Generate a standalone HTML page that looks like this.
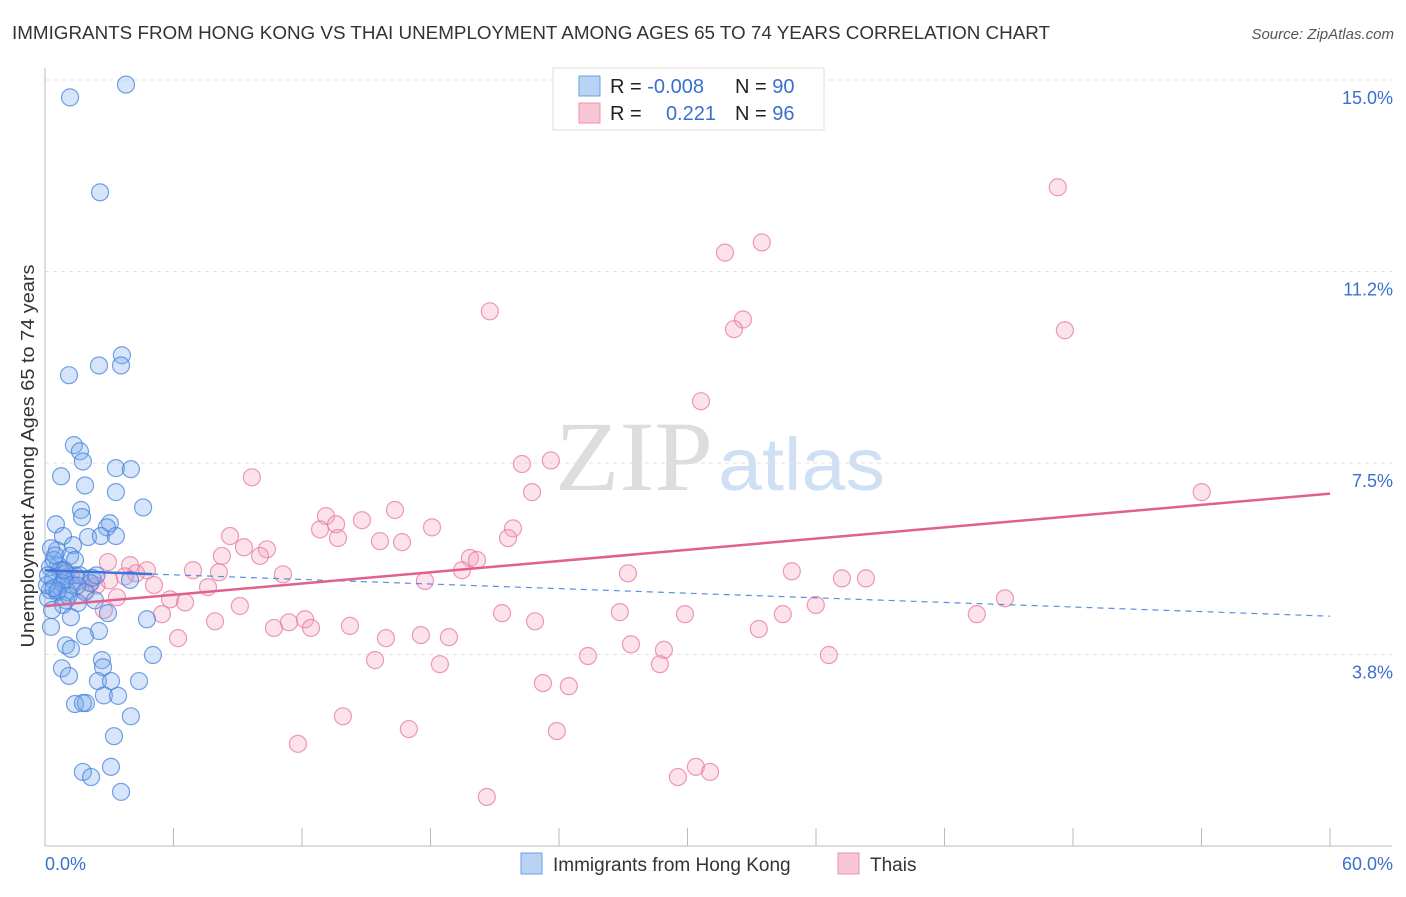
<!DOCTYPE html>
<html><head><meta charset="utf-8"><style>
body{margin:0;background:#fff;font-family:"Liberation Sans",sans-serif;}
</style></head><body>
<svg id="chart" width="1406" height="892" xmlns="http://www.w3.org/2000/svg">
<text x="12" y="39" font-size="18" fill="#333" textLength="1038" lengthAdjust="spacingAndGlyphs">IMMIGRANTS FROM HONG KONG VS THAI UNEMPLOYMENT AMONG AGES 65 TO 74 YEARS CORRELATION CHART</text>
<text x="1394" y="39" font-size="15" fill="#555" font-style="italic" text-anchor="end">Source: ZipAtlas.com</text>
<text x="555" y="490" font-size="100" fill="#ddd" font-family="Liberation Serif,serif" textLength="158" lengthAdjust="spacingAndGlyphs">ZIP</text>
<text x="718" y="490" font-size="74" fill="#cfe0f5" textLength="167" lengthAdjust="spacingAndGlyphs">atlas</text>
<g id="grid"></g>
<g id="axes"></g>
<g id="pts"></g>
<g id="trends"></g>
<text transform="translate(34,456) rotate(-90)" font-size="18" fill="#333" text-anchor="middle" textLength="383" lengthAdjust="spacingAndGlyphs">Unemployment Among Ages 65 to 74 years</text>
<g>
<rect x="553" y="68" width="271" height="62" fill="#fff" stroke="#ddd"/>
<rect x="579" y="76" width="21" height="20" fill="#b9d3f5" stroke="#6a9fe0"/>
<rect x="579" y="103" width="21" height="20" fill="#f8c5d4" stroke="#eb94b0"/>
<text x="610" y="93" font-size="20" fill="#222">R = <tspan fill="#3a6fd0">-0.008</tspan></text>
<text x="735" y="93" font-size="20" fill="#222">N = <tspan fill="#3a6fd0">90</tspan></text>
<text x="610" y="120" font-size="20" fill="#222">R = </text>
<text x="716" y="120" font-size="20" fill="#3a6fd0" text-anchor="end">0.221</text>
<text x="735" y="120" font-size="20" fill="#222">N = <tspan fill="#3a6fd0">96</tspan></text>
</g>
<g>
<rect x="521" y="853" width="21" height="21" fill="#b9d3f5" stroke="#6a9fe0"/>
<text x="553" y="871" font-size="19" fill="#333">Immigrants from Hong Kong</text>
<rect x="838" y="853" width="21" height="21" fill="#f8c5d4" stroke="#eb94b0"/>
<text x="870" y="871" font-size="19" fill="#333">Thais</text>
</g>
</svg>
<script>
const yTicks=[3.75,7.5,11.25,15];
const yTickLabels=["3.8%","7.5%","11.2%","15.0%"];
const xTicks=[0,6,12,18,24,30,36,42,48,54,60];
const xEndLabels=["0.0%","60.0%"];
const blueX=[3.78,1.17,2.57,3.59,2.52,3.55,1.12,1.35,1.63,1.77,3.31,4.01,0.75,1.87,3.31,4.58,1.68,1.73,3.03,2.89,0.51,0.84,2.01,2.61,3.31,1.31,0.56,0.28,1.17,1.4,0.61,0.23,0.7,0.98,1.4,2.1,3.97,0.37,0.79,1.26,0.23,0.56,1.07,1.87,0.14,0.98,2.33,1.54,0.84,2.94,4.76,1.21,0.28,2.52,1.87,0.98,1.21,5.04,2.66,0.79,2.71,1.12,2.47,3.08,4.39,2.75,3.41,1.4,1.91,1.77,4.01,3.22,1.77,3.08,2.15,3.55,0.42,0.09,0.47,1.63,0.93,0.14,0.33,0.6,1.5,2.2,0.9,0.4,1.1,2.4];
const blueY=[14.91,14.66,12.8,9.61,9.41,9.41,9.22,7.85,7.73,7.53,7.4,7.38,7.24,7.06,6.93,6.63,6.58,6.44,6.32,6.24,6.3,6.07,6.05,6.07,6.07,5.89,5.79,5.83,5.68,5.6,5.5,5.46,5.4,5.34,5.3,5.15,5.21,5.21,5.15,5.11,5.01,4.97,4.97,4.97,4.85,4.81,4.81,4.76,4.72,4.56,4.44,4.48,4.29,4.21,4.11,3.93,3.86,3.74,3.64,3.48,3.5,3.33,3.23,3.23,3.23,2.95,2.94,2.78,2.8,2.8,2.54,2.15,1.45,1.55,1.35,1.06,5.6,5.11,5.69,5.3,5.21,5.3,4.62,5.0,5.1,5.25,5.4,5.05,4.9,5.3];
const pinkX=[47.29,33.47,31.75,20.77,32.59,32.17,47.62,30.63,9.66,23.62,22.27,22.74,54.01,13.12,16.34,14.8,12.84,13.59,18.07,21.85,8.64,15.64,16.67,13.68,21.62,9.29,10.36,10.04,8.26,19.84,20.17,2.94,3.97,4.76,6.91,8.12,11.11,19.47,34.87,27.22,37.21,38.33,4.25,3.73,2.15,1.63,5.09,7.61,17.74,3.36,5.84,6.54,9.1,2.75,5.46,21.34,26.84,29.88,34.45,35.99,44.82,43.51,7.94,10.69,11.39,12.14,12.42,14.24,22.88,6.21,15.92,17.55,18.86,27.36,33.33,25.35,28.9,28.71,15.41,18.44,36.6,23.25,24.46,13.91,16.99,23.9,11.81,30.39,29.55,31.05,20.63,1.2,2.4,0.8,1.9,3.0];
const pinkY=[12.9,11.82,11.62,10.47,10.31,10.12,10.1,8.71,7.22,7.55,7.48,6.93,6.93,6.46,6.58,6.38,6.2,6.3,6.24,6.22,6.07,5.97,5.95,6.03,6.03,5.85,5.81,5.68,5.68,5.64,5.6,5.56,5.5,5.4,5.4,5.36,5.32,5.4,5.38,5.34,5.24,5.24,5.34,5.28,5.15,5.19,5.11,5.07,5.19,4.87,4.83,4.77,4.7,4.62,4.54,4.56,4.58,4.54,4.54,4.72,4.85,4.54,4.4,4.27,4.38,4.44,4.27,4.31,4.4,4.07,4.07,4.13,4.09,3.95,4.25,3.72,3.84,3.56,3.64,3.56,3.74,3.19,3.13,2.54,2.29,2.25,2.0,1.55,1.35,1.45,0.96,5.3,5.1,5.4,5.0,5.2];
const blueTrend=[5.4,4.5];
const pinkTrend=[4.7,6.9];
const NS="http://www.w3.org/2000/svg";
const X0=45,X1=1330,Y0=846,Y15=80;
const sx=v=>X0+v/60*(X1-X0);
const sy=v=>Y0-v/15*(Y0-Y15);
function mk(tag,attrs,parent){const e=document.createElementNS(NS,tag);for(const k in attrs)e.setAttribute(k,attrs[k]);parent.appendChild(e);return e;}
const grid=document.getElementById('grid'),axes=document.getElementById('axes'),pts=document.getElementById('pts'),tr=document.getElementById('trends');
yTicks.forEach((t,i)=>{
 const l=mk('line',{x1:X0,x2:1392,y1:sy(t),y2:sy(t),stroke:'#e2e2e2','stroke-dasharray':'4,4'},grid);
 
 
 const tx=mk('text',{x:1393,y:sy(t)+24,'font-size':18,fill:'#3a6fd0','text-anchor':'end'},grid);
 tx.textContent=yTickLabels[i];
 
 
});
const ya=mk('line',{x1:X0,x2:X0,y1:68,y2:Y0,stroke:'#bbb'},axes);


const xa=mk('line',{x1:X0,x2:1392,y1:Y0,y2:Y0,stroke:'#bbb'},axes);


xTicks.forEach(t=>{
 const l=mk('line',{x1:sx(t),x2:sx(t),y1:Y0,y2:Y0-18,stroke:'#bbb'},axes);
 
 
});
const xl0=mk('text',{x:45,y:870,'font-size':18,fill:'#3a6fd0'},axes);xl0.textContent=xEndLabels[0];


const xl1=mk('text',{x:1393,y:870,'font-size':18,fill:'#3a6fd0','text-anchor':'end'},axes);xl1.textContent=xEndLabels[1];


pinkX.forEach((x,i)=>{
 const c=mk('circle',{cx:sx(x),cy:sy(pinkY[i]),r:8.5,fill:'rgba(244,160,190,0.3)',stroke:'rgba(232,120,160,0.75)','stroke-width':1.2},pts);
 
 
});
blueX.forEach((x,i)=>{
 const c=mk('circle',{cx:sx(x),cy:sy(blueY[i]),r:8.5,fill:'rgba(120,170,235,0.3)',stroke:'rgba(70,130,220,0.75)','stroke-width':1.2},pts);
 
 
});
const bAt=x=>blueTrend[0]+(blueTrend[1]-blueTrend[0])*x/60;
const b1=mk('line',{x1:sx(0),y1:sy(bAt(0)),x2:sx(5),y2:sy(bAt(5)),stroke:'#3d74d6','stroke-width':2.5},tr);


const b2=mk('line',{x1:sx(5),y1:sy(bAt(5)),x2:sx(60),y2:sy(bAt(60)),stroke:'#5b8ee0','stroke-width':1.2,'stroke-dasharray':'6,5'},tr);


const p1=mk('line',{x1:sx(0),y1:sy(pinkTrend[0]),x2:sx(60),y2:sy(pinkTrend[1]),stroke:'#e0608e','stroke-width':2.5},tr);


</script>
</body></html>
